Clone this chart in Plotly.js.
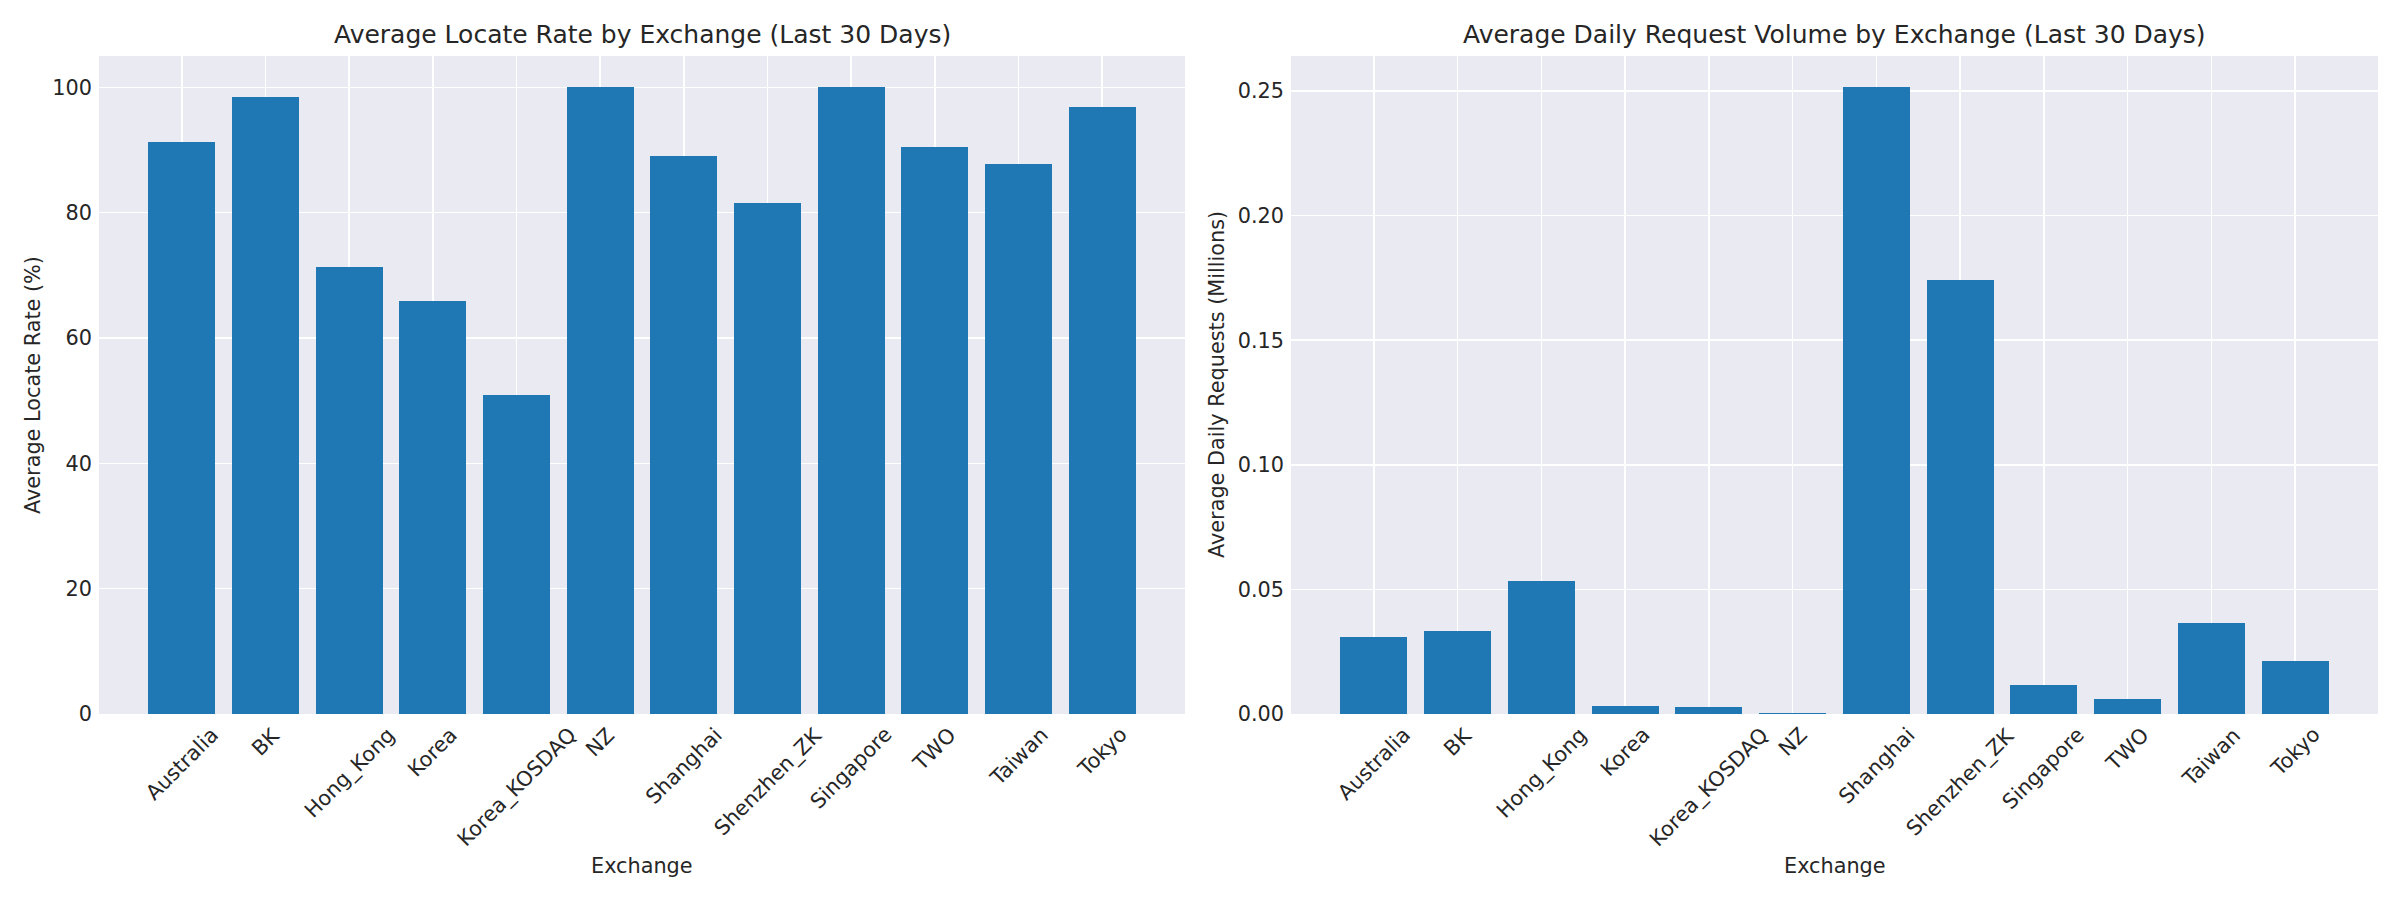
<!DOCTYPE html>
<html>
<head>
<meta charset="utf-8">
<script src="https://cdn.plot.ly/plotly-3.0.1.min.js"></script>
<style>
  html, body { margin: 0; padding: 0; background: #fff; }
  #chart { width: 2400px; height: 900px; }
</style>
</head>
<body>
<div id="chart"></div>
<script>
const exchanges = ["Australia", "BK", "Hong_Kong", "Korea", "Korea_KOSDAQ", "NZ", "Shanghai", "Shenzhen_ZK", "Singapore", "TWO", "Taiwan", "Tokyo"];
const locateRate = [91.2, 98.4, 71.4, 65.9, 50.9, 100.0, 89.0, 81.5, 100.0, 90.4, 87.7, 96.8];
const requestVolume = [0.0309, 0.0333, 0.0533, 0.0032, 0.0028, 0.0004, 0.2515, 0.1741, 0.0116, 0.0060, 0.0365, 0.0213];

const ink = "#262626";
const font = "DejaVu Sans, sans-serif";
const barColor = "#1f77b4";

// plot boxes (px)
const W = 2400, H = 900;
const plotTop = 56, plotBottom = 714;
const left = { x0: 99, x1: 1185 };
const right = { x0: 1291, x1: 2378 };

const yDomain = [1 - plotBottom / H, 1 - plotTop / H];
const px = (v) => v / W;
const py = (v) => 1 - v / H;

function axisY(range, dtick, fmt) {
  return {
    range, dtick, tickformat: fmt,
    domain: yDomain,
    showgrid: true, gridcolor: "#ffffff", gridwidth: 1.6,
    zeroline: false, showline: false, ticks: "",
    ticklabelstandoff: 6,
    tickfont: { family: font, size: 20.8, color: ink },
  };
}

function axisX(domain) {
  return {
    type: "category",
    domain,
    range: [-0.99, 11.99],
    showgrid: true, gridcolor: "#ffffff", gridwidth: 1.6,
    zeroline: false, showline: false, ticks: "",
    showticklabels: false,
  };
}

function tickLabels(xref) {
  return exchanges.map((name) => ({
    text: name, xref, x: name, yref: "paper", y: yDomain[0],
    xanchor: "center", yanchor: "top", yshift: -6,
    textangle: -45, showarrow: false,
    font: { family: font, size: 20.8, color: ink },
  }));
}

const vmax = Math.max(...requestVolume);

const data = [
  { type: "bar", x: exchanges, y: locateRate, width: 0.8, marker: { color: barColor, line: { width: 0 } }, xaxis: "x", yaxis: "y", hoverinfo: "x+y" },
  { type: "bar", x: exchanges, y: requestVolume, width: 0.8, marker: { color: barColor, line: { width: 0 } }, xaxis: "x2", yaxis: "y2", hoverinfo: "x+y" },
];

const layout = {
  width: W, height: H,
  margin: { l: 0, r: 0, t: 0, b: 0 },
  paper_bgcolor: "#ffffff",
  plot_bgcolor: "#eaeaf2",
  showlegend: false,
  bargap: 0,
  xaxis: axisX([px(left.x0), px(left.x1)]),
  xaxis2: axisX([px(right.x0), px(right.x1)]),
  yaxis: Object.assign(axisY([0, 105], 20, "d"), { anchor: "x" }),
  yaxis2: Object.assign(axisY([0, vmax * 1.05], 0.05, ".2f"), { anchor: "x2" }),
  annotations: [
    { text: "Average Locate Rate by Exchange (Last 30 Days)", xref: "paper", yref: "paper",
      x: px((left.x0 + left.x1) / 2), y: py(35), xanchor: "center", yanchor: "middle", showarrow: false,
      font: { family: font, size: 25, color: ink } },
    { text: "Average Daily Request Volume by Exchange (Last 30 Days)", xref: "paper", yref: "paper",
      x: px((right.x0 + right.x1) / 2), y: py(35), xanchor: "center", yanchor: "middle", showarrow: false,
      font: { family: font, size: 25, color: ink } },
    { text: "Exchange", xref: "paper", yref: "paper",
      x: px((left.x0 + left.x1) / 2), y: py(866), xanchor: "center", yanchor: "middle", showarrow: false,
      font: { family: font, size: 20.8, color: ink } },
    { text: "Exchange", xref: "paper", yref: "paper",
      x: px((right.x0 + right.x1) / 2), y: py(866), xanchor: "center", yanchor: "middle", showarrow: false,
      font: { family: font, size: 20.8, color: ink } },
    { text: "Average Locate Rate (%)", xref: "paper", yref: "paper",
      x: px(33), y: py((plotTop + plotBottom) / 2), xanchor: "center", yanchor: "middle", textangle: -90, showarrow: false,
      font: { family: font, size: 20.8, color: ink } },
    { text: "Average Daily Requests (Millions)", xref: "paper", yref: "paper",
      x: px(1217), y: py((plotTop + plotBottom) / 2), xanchor: "center", yanchor: "middle", textangle: -90, showarrow: false,
      font: { family: font, size: 20.8, color: ink } },
  ].concat(tickLabels("x"), tickLabels("x2")),
};

Plotly.newPlot("chart", data, layout, { displayModeBar: false, staticPlot: true });
</script>
</body>
</html>
